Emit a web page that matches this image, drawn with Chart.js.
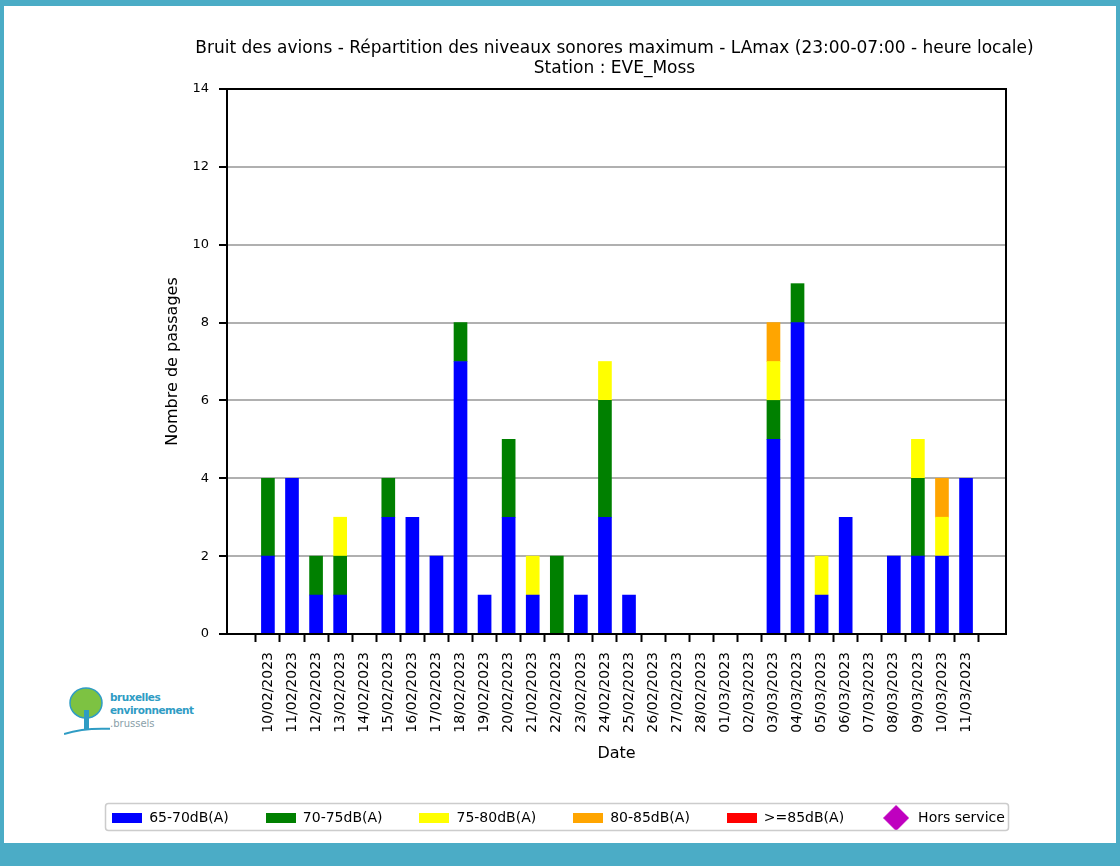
<!DOCTYPE html>
<html>
<head>
<meta charset="utf-8">
<script src="https://cdn.jsdelivr.net/npm/chart.js@4"></script>
<style>
  html, body { margin: 0; padding: 0; }
  body { width: 1120px; height: 866px; background: #4bacc6; position: relative; overflow: hidden; }
  #panel { position: absolute; left: 4px; top: 6px; width: 1112px; height: 837px; background: #fff; }
  #c { position: absolute; left: 0; top: 0; }
  #logo { position: absolute; left: 64px; top: 686px; width: 140px; height: 52px; font-family: "DejaVu Sans", sans-serif; }
  #logo .t1 { position: absolute; left: 46px; top: 5px; font-size: 10.5px; font-weight: bold; color: #2f9cc4; line-height: 13px; letter-spacing: -0.5px; }
  #logo .t2 { position: absolute; left: 46px; top: 32px; font-size: 10px; color: #8aa0a8; }
</style>
</head>
<body>
<div id="panel"></div>
<div id="logo">
  <svg width="46" height="52" viewBox="0 0 46 52">
    <ellipse cx="22" cy="17" rx="16" ry="15" fill="#7dc242" stroke="#2f9cc4" stroke-width="1.5"/>
    <rect x="20" y="24" width="5" height="20" fill="#2f9cc4"/>
    <path d="M0 48 Q 25 40 60 44" stroke="#2f9cc4" stroke-width="2" fill="none"/>
  </svg>
  <div class="t1">bruxelles<br>environnement</div>
  <div class="t2">.brussels</div>
</div>
<canvas id="c" width="1120" height="866"></canvas>
<script>
// dates on the x axis
const dates = ['10/02/2023','11/02/2023','12/02/2023','13/02/2023','14/02/2023','15/02/2023','16/02/2023','17/02/2023',
  '18/02/2023','19/02/2023','20/02/2023','21/02/2023','22/02/2023','23/02/2023','24/02/2023','25/02/2023','26/02/2023',
  '27/02/2023','28/02/2023','01/03/2023','02/03/2023','03/03/2023','04/03/2023','05/03/2023','06/03/2023','07/03/2023',
  '08/03/2023','09/03/2023','10/03/2023','11/03/2023'];

// number of passages per class
const db65 = [2,4,1,1,0,3,3,2,7,1,3,1,0,1,3,1,0,0,0,0,0,5,8,1,3,0,2,2,2,4];
const db70 = [2,0,1,1,0,1,0,0,1,0,2,0,2,0,3,0,0,0,0,0,0,1,1,0,0,0,0,2,0,0];
const db75 = [0,0,0,1,0,0,0,0,0,0,0,1,0,0,1,0,0,0,0,0,0,1,0,1,0,0,0,1,1,0];
const db80 = [0,0,0,0,0,0,0,0,0,0,0,0,0,0,0,0,0,0,0,0,0,1,0,0,0,0,0,0,1,0];
const db85 = [0,0,0,0,0,0,0,0,0,0,0,0,0,0,0,0,0,0,0,0,0,0,0,0,0,0,0,0,0,0];
const horsService = [];

const yTicks = [0, 2, 4, 6, 8, 10, 12, 14];
const titleLines = ['Bruit des avions - Répartition des niveaux sonores maximum - LAmax (23:00-07:00 - heure locale)',
                    'Station : EVE_Moss'];

const FONT = "'DejaVu Sans', sans-serif";

// legend swatches
function swatch(color) {
    const c = document.createElement('canvas');
    c.width = 30; c.height = 10;
    const g = c.getContext('2d');
    g.fillStyle = color;
    g.fillRect(0, 0, 30, 10);
    return c;
}
function diamond(color) {
    const c = document.createElement('canvas');
    c.width = 26; c.height = 26;
    const g = c.getContext('2d');
    g.fillStyle = color;
    g.beginPath();
    g.moveTo(13, 0); g.lineTo(26, 13); g.lineTo(13, 26); g.lineTo(0, 13);
    g.closePath();
    g.fill();
    return c;
}

// zero counts are left out so no sliver is drawn
function toPoints(arr) {
    return arr.map((v, i) => ({ x: i, y: v })).filter(p => p.y > 0);
}

function barSet(label, arr, color) {
    return {
        type: 'bar',
        label: label,
        data: toPoints(arr),
        backgroundColor: color,
        borderWidth: 0,
        barThickness: 13,
        stack: 's',
        pointStyle: swatch(color)
    };
}

// box around the plot, title over it, border around the legend
const frame = {
    id: 'frame',
    afterDatasetsDraw(chart) {
        const { ctx, chartArea: a } = chart;
        ctx.save();
        ctx.strokeStyle = '#000';
        ctx.lineWidth = 2;
        ctx.strokeRect(a.left, a.top, a.right - a.left, a.bottom - a.top);
        ctx.restore();
    },
    afterDraw(chart) {
        const { ctx, chartArea: a } = chart;
        ctx.save();
        ctx.fillStyle = '#000';
        ctx.font = "17px " + FONT;
        ctx.textAlign = 'center';
        ctx.textBaseline = 'middle';
        const cx = (a.left + a.right) / 2 - 2;
        titleLines.forEach((t, i) => ctx.fillText(t, cx, 49 + i * 20));

        ctx.strokeStyle = '#cccccc';
        ctx.lineWidth = 1.5;
        ctx.beginPath();
        ctx.roundRect(105.5, 803.5, 903, 27, 3);
        ctx.stroke();
        ctx.restore();
    }
};

new Chart(document.getElementById('c'), {
    data: {
        datasets: [
            barSet('65-70dB(A)', db65, '#0000ff'),
            barSet('70-75dB(A)', db70, '#008000'),
            barSet('75-80dB(A)', db75, '#ffff00'),
            barSet('80-85dB(A)', db80, '#ffa500'),
            barSet('>=85dB(A)', db85, '#ff0000'),
            {
                type: 'scatter',
                label: 'Hors service',
                data: horsService,
                backgroundColor: '#bf00bf',
                pointStyle: diamond('#bf00bf')
            }
        ]
    },
    options: {
        responsive: false,
        animation: false,
        devicePixelRatio: 1,
        layout: { padding: { left: 50, right: 53, top: 89, bottom: 31 } },
        plugins: {
            title: { display: false },
            legend: {
                position: 'bottom',
                labels: {
                    usePointStyle: true,
                    pointStyleWidth: 30,
                    boxHeight: 10,
                    color: '#000',
                    font: { family: FONT, size: 14 },
                    padding: 37
                }
            },
            tooltip: { enabled: false }
        },
        scales: {
            x: {
                type: 'linear',
                offset: false,
                min: -1.7,
                max: 30.66,
                afterBuildTicks(axis) {
                    axis.ticks = dates.map((d, i) => ({ value: i }));
                },
                afterFit(axis) { axis.height = 140; },
                ticks: {
                    autoSkip: false,
                    minRotation: 90,
                    maxRotation: 90,
                    padding: 10,
                    color: '#000',
                    font: { family: FONT, size: 14 },
                    callback: (v) => dates[v]
                },
                grid: { drawOnChartArea: false, drawTicks: true, tickLength: 8, tickWidth: 2, tickColor: '#000' },
                border: { color: '#000', width: 2 },
                title: { display: true, text: 'Date', color: '#000', font: { family: FONT, size: 16 }, padding: { top: 0, bottom: 11 } }
            },
            y: {
                min: 0,
                max: 14,
                afterBuildTicks(axis) {
                    axis.ticks = yTicks.map(v => ({ value: v }));
                },
                afterFit(axis) { axis.width = 177; },
                ticks: { color: '#000', padding: 10, font: { family: FONT, size: 13 } },
                grid: { color: '#b0b0b0', lineWidth: 2, drawTicks: true, tickLength: 8, tickWidth: 2, tickColor: '#000' },
                border: { color: '#000', width: 2 },
                title: { display: true, text: 'Nombre de passages', color: '#000', font: { family: FONT, size: 16 }, padding: { top: 113 } }
            },
            yRight: {
                position: 'right',
                min: 0,
                max: 14,
                afterFit(axis) { axis.width = 1120 - 53 - 1006; },
                ticks: { display: false },
                grid: { display: false },
                border: { display: false }
            }
        }
    },
    plugins: [frame]
});
</script>
</body>
</html>
